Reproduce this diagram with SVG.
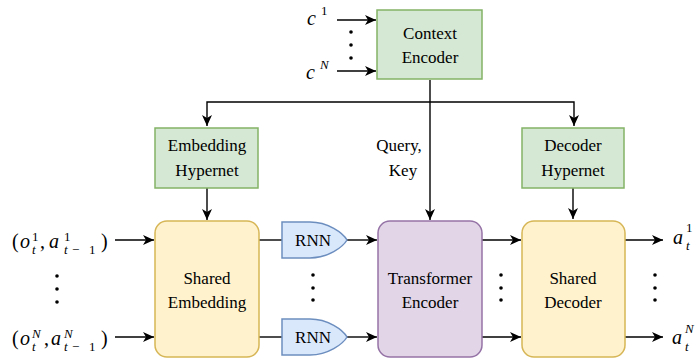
<svg xmlns="http://www.w3.org/2000/svg" width="700" height="360" viewBox="0 0 700 360">
<defs>
<marker id="ah" markerUnits="userSpaceOnUse" markerWidth="12" markerHeight="10" refX="11" refY="5" orient="auto">
<path d="M0,0 L11,5 L0,10 L3,5 Z" fill="#000"/>
</marker>
</defs>

<g id="connectors" fill="none" stroke="#000" stroke-width="1.4">
<path d="M337,20 H376" marker-end="url(#ah)"/>
<path d="M337,71 H376" marker-end="url(#ah)"/>
<path d="M430,80 V220" marker-end="url(#ah)"/>
<path d="M430,102 H207 V126" marker-end="url(#ah)"/>
<path d="M430,102 H574 V126" marker-end="url(#ah)"/>
<path d="M207,188 V220" marker-end="url(#ah)"/>
<path d="M573,188 V219" marker-end="url(#ah)"/>
<path d="M115,240 H154" marker-end="url(#ah)"/>
<path d="M115,337 H154" marker-end="url(#ah)"/>
<path d="M259,240 H282"/>
<path d="M259,337 H282"/>
<path d="M347,240 H377" marker-end="url(#ah)"/>
<path d="M347,337 H377" marker-end="url(#ah)"/>
<path d="M482,240 H521" marker-end="url(#ah)"/>
<path d="M482,337 H521" marker-end="url(#ah)"/>
<path d="M625,240 H663" marker-end="url(#ah)"/>
<path d="M625,337 H663" marker-end="url(#ah)"/>
</g>

<g id="context-encoder">
<rect fill="#d5e8d4" stroke="#82b366" stroke-width="1.5" x="377" y="10" width="105" height="69"/>
<text font-family="Times New Roman" font-size="17" text-anchor="middle" x="430" y="39">Context</text>
<text font-family="Times New Roman" font-size="17" text-anchor="middle" x="430" y="63">Encoder</text>
</g>

<g id="embedding-hypernet">
<rect fill="#d5e8d4" stroke="#82b366" stroke-width="1.5" x="155" y="128" width="103" height="60"/>
<text font-family="Times New Roman" font-size="17" text-anchor="middle" x="207" y="151">Embedding</text>
<text font-family="Times New Roman" font-size="17" text-anchor="middle" x="207" y="176">Hypernet</text>
</g>

<g id="decoder-hypernet">
<rect fill="#d5e8d4" stroke="#82b366" stroke-width="1.5" x="522" y="128" width="102" height="60"/>
<text font-family="Times New Roman" font-size="17" text-anchor="middle" x="573" y="151">Decoder</text>
<text font-family="Times New Roman" font-size="17" text-anchor="middle" x="573" y="176">Hypernet</text>
</g>

<g id="query-key-label">
<text font-family="Times New Roman" font-size="17" text-anchor="middle" x="399" y="151">Query,</text>
<text font-family="Times New Roman" font-size="17" text-anchor="middle" x="403" y="176">Key</text>
</g>

<g id="shared-embedding">
<rect fill="#fff2cc" stroke="#d6b656" stroke-width="1.5" x="155" y="221" width="104" height="136" rx="12"/>
<text font-family="Times New Roman" font-size="17" text-anchor="middle" x="207" y="284">Shared</text>
<text font-family="Times New Roman" font-size="17" text-anchor="middle" x="207" y="308">Embedding</text>
</g>

<g id="rnn-1">
<path fill="#dae8fc" stroke="#6c8ebf" stroke-width="1.5" d="M282,222 H310 C328,222 343,233 347,240 C343,247 328,258 310,258 H282 Z"/>
<text font-family="Times New Roman" font-size="17" text-anchor="middle" x="313" y="246">RNN</text>
</g>

<g id="rnn-n">
<path fill="#dae8fc" stroke="#6c8ebf" stroke-width="1.5" d="M282,319 H310 C328,319 343,330 347,337 C343,344 328,355 310,355 H282 Z"/>
<text font-family="Times New Roman" font-size="17" text-anchor="middle" x="313" y="343">RNN</text>
</g>

<g id="transformer-encoder">
<rect fill="#e1d5e7" stroke="#9673a6" stroke-width="1.5" x="378" y="221" width="104" height="136" rx="12"/>
<text font-family="Times New Roman" font-size="17" text-anchor="middle" x="430" y="284">Transformer</text>
<text font-family="Times New Roman" font-size="17" text-anchor="middle" x="430" y="308">Encoder</text>
</g>

<g id="shared-decoder">
<rect fill="#fff2cc" stroke="#d6b656" stroke-width="1.5" x="522" y="221" width="103" height="136" rx="12"/>
<text font-family="Times New Roman" font-size="17" text-anchor="middle" x="573" y="284">Shared</text>
<text font-family="Times New Roman" font-size="17" text-anchor="middle" x="573" y="308">Decoder</text>
</g>

<g id="context-inputs">
<text font-family="Times New Roman" font-size="20"><tspan font-style="italic" x="307" y="25">c</tspan><tspan font-size="13" x="321" y="15">1</tspan></text>
<text font-family="Times New Roman" font-size="20"><tspan font-style="italic" x="306" y="79">c</tspan><tspan font-size="13" font-style="italic" x="320" y="69">N</tspan></text>
<circle cx="351" cy="32" r="1.8"/>
<circle cx="351" cy="45" r="1.8"/>
<circle cx="351" cy="58" r="1.8"/>
</g>

<g id="agent-inputs">
<text font-family="Times New Roman" font-size="20"><tspan x="12" y="248">(</tspan><tspan font-style="italic" x="20" y="248">o</tspan><tspan font-size="13" x="32" y="241">1</tspan><tspan font-size="13" font-style="italic" x="32" y="254">t</tspan><tspan x="40" y="248">,</tspan><tspan font-style="italic" x="49" y="248">a</tspan><tspan font-size="13" x="64" y="241">1</tspan><tspan font-size="13" font-style="italic" x="64" y="254">t</tspan><tspan font-size="13" x="72" y="254">−</tspan><tspan font-size="13" x="89" y="254">1</tspan><tspan x="101" y="248">)</tspan></text>
<text font-family="Times New Roman" font-size="20"><tspan x="12" y="345">(</tspan><tspan font-style="italic" x="20" y="345">o</tspan><tspan font-size="13" font-style="italic" x="32" y="338">N</tspan><tspan font-size="13" font-style="italic" x="32" y="351">t</tspan><tspan x="44" y="345">,</tspan><tspan font-style="italic" x="51" y="345">a</tspan><tspan font-size="13" font-style="italic" x="64" y="338">N</tspan><tspan font-size="13" font-style="italic" x="64" y="351">t</tspan><tspan font-size="13" x="72" y="351">−</tspan><tspan font-size="13" x="89" y="351">1</tspan><tspan x="101" y="345">)</tspan></text>
<circle cx="57" cy="276" r="1.8"/>
<circle cx="57" cy="289" r="1.8"/>
<circle cx="57" cy="302" r="1.8"/>
</g>

<g id="middle-dots">
<circle cx="313" cy="275" r="1.8"/>
<circle cx="313" cy="288" r="1.8"/>
<circle cx="313" cy="300" r="1.8"/>
<circle cx="501" cy="275" r="1.8"/>
<circle cx="501" cy="288" r="1.8"/>
<circle cx="501" cy="300" r="1.8"/>
</g>

<g id="outputs">
<text font-family="Times New Roman" font-size="20"><tspan font-style="italic" x="673" y="244">a</tspan><tspan font-size="13" x="686" y="232">1</tspan><tspan font-size="13" font-style="italic" x="686" y="250">t</tspan></text>
<text font-family="Times New Roman" font-size="20"><tspan font-style="italic" x="672" y="344">a</tspan><tspan font-size="13" font-style="italic" x="685" y="333">N</tspan><tspan font-size="13" font-style="italic" x="685" y="351">t</tspan></text>
<circle cx="655" cy="275" r="1.8"/>
<circle cx="655" cy="288" r="1.8"/>
<circle cx="655" cy="300" r="1.8"/>
</g>
</svg>
